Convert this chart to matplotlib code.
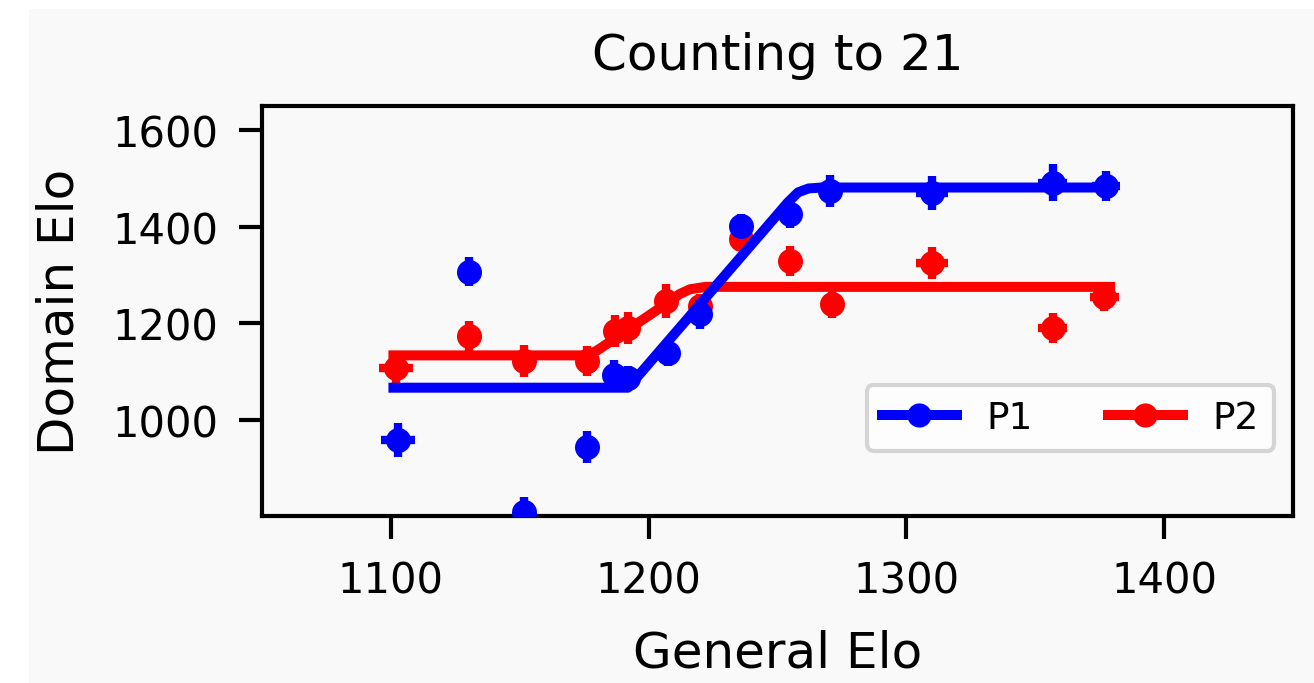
import matplotlib
matplotlib.use("Agg")
import matplotlib.pyplot as plt
from matplotlib.lines import Line2D
from matplotlib.patches import Rectangle

# general elo (x) / domain elo (y) with error estimates
p1_x = [1102.7, 1130.4, 1151.5, 1176.0, 1186.5, 1192.0, 1207.5, 1219.8, 1236.0, 1255.0, 1270.4, 1310.0, 1356.7, 1377.4]
p1_y = [958, 1306, 808, 943, 1093, 1086, 1138, 1218, 1401, 1427, 1474, 1470, 1491, 1484]
p1_xerr = [6.6, 4.5, 2.0, 2.0, 3.0, 3.0, 2.0, 2.0, 4.5, 3.5, 1.0, 6.2, 5.8, 5.5]
p1_yerr = [35, 30, 32, 33, 30, 25, 28, 30, 25, 30, 33, 35, 38, 31]

p2_x = [1101.8, 1130.4, 1151.8, 1176.0, 1186.8, 1192.0, 1206.9, 1219.8, 1236.0, 1255.0, 1271.0, 1310.0, 1356.7, 1376.8]
p2_y = [1107, 1174, 1121, 1121, 1183, 1190, 1245, 1235, 1374, 1329, 1239, 1324, 1190, 1253]
p2_xerr = [6.6, 4.5, 2.0, 2.0, 2.0, 2.0, 4.0, 2.0, 4.0, 4.5, 1.0, 6.2, 5.5, 5.5]
p2_yerr = [33, 31, 33, 31, 33, 33, 35, 25, 25, 31, 28, 33, 31, 28]

# fitted piecewise curves
fit1_x = [1101, 1192, 1254, 1258, 1262, 1267, 1378]
fit1_y = [1066, 1066, 1450, 1471, 1479, 1481, 1481]
fit2_x = [1101, 1176, 1180, 1206, 1212, 1216, 1222, 1379]
fit2_y = [1133, 1133, 1143, 1237, 1260, 1270, 1275, 1275]

bg = '#f9f9f9'
fig = plt.figure(figsize=(1314 / 300, 684 / 300), dpi=300, facecolor='white')
fig.patches.append(Rectangle((29 / 1314, 0), 1 - 29 / 1314, 1 - 10 / 684,
                             transform=fig.transFigure, facecolor=bg, edgecolor='none', zorder=-10))
ax = fig.add_axes([262 / 1314, 1 - 517 / 684, (1293 - 262) / 1314, (517 - 107) / 684])
ax.set_facecolor(bg)

ax.plot(fit2_x, fit2_y, color='red', lw=2.4, solid_joinstyle='round', zorder=2)
ax.errorbar(p2_x, p2_y, xerr=p2_xerr, yerr=p2_yerr, fmt='o', color='red',
            ms=5, elinewidth=2, capsize=0, zorder=2.1)
ax.errorbar(p1_x, p1_y, xerr=p1_xerr, yerr=p1_yerr, fmt='o', color='blue',
            ms=5, elinewidth=2, capsize=0, zorder=3)
ax.plot(fit1_x, fit1_y, color='blue', lw=2.4, solid_joinstyle='round', zorder=3.1)

ax.set_xlim(1050, 1450)
ax.set_ylim(800, 1650)
ax.set_xticks([1100, 1200, 1300, 1400])
ax.set_yticks([1000, 1200, 1400, 1600])
ax.tick_params(length=5.5, width=1, pad=5, labelsize=10)
for s in ax.spines.values():
    s.set_linewidth(1)

ax.set_title('Counting to 21', fontsize=12, pad=9)
ax.set_xlabel('General Elo', fontsize=12, labelpad=6.5)
ax.set_ylabel('Domain Elo', fontsize=12, labelpad=7)

handles = [Line2D([], [], color='blue', lw=2.4, marker='o', ms=4.8),
           Line2D([], [], color='red', lw=2.4, marker='o', ms=4.8)]
ax.legend(handles, ['P1', 'P2'], ncol=2, fontsize=9, loc='lower right',
          bbox_to_anchor=(1.0, 0.113))

fig.savefig('out.png', dpi=300, facecolor='white')
